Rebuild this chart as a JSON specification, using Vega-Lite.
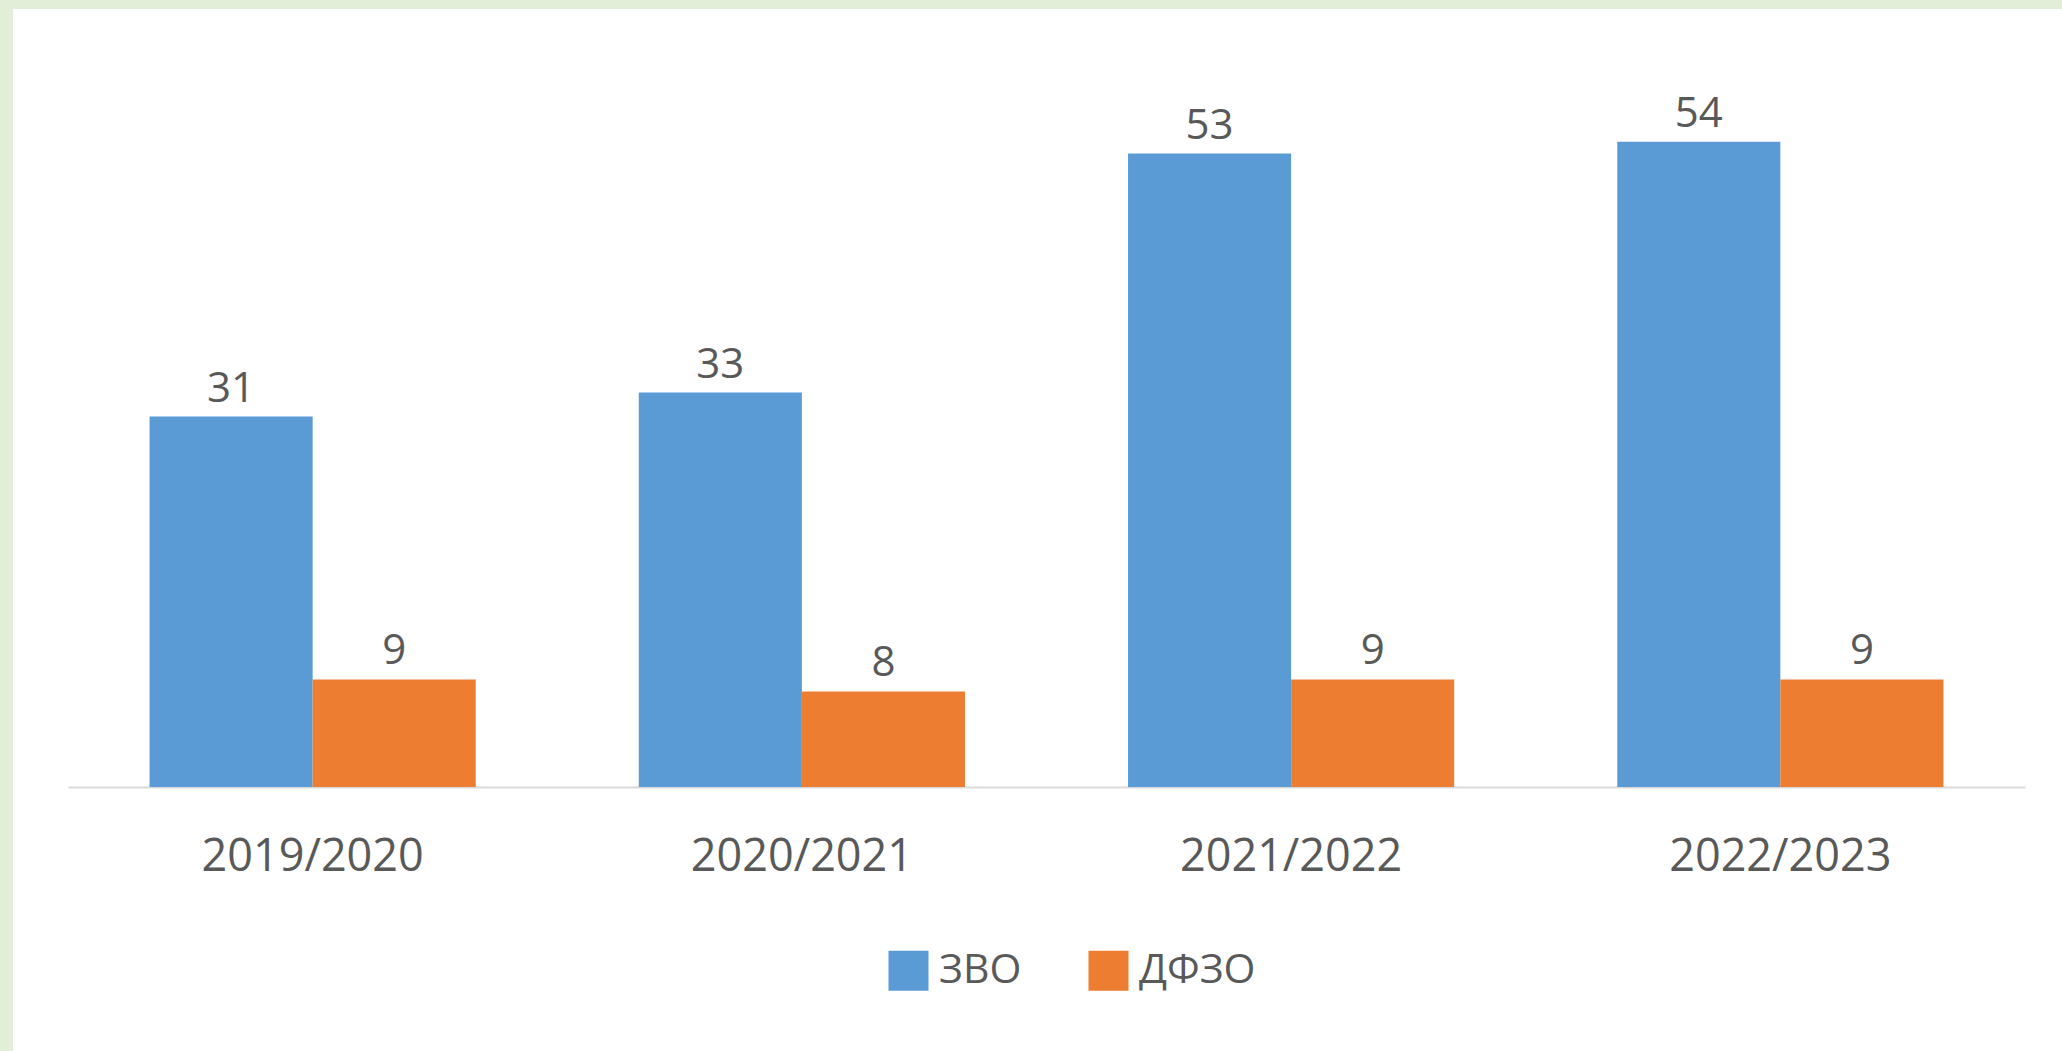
{
  "$schema": "https://vega.github.io/schema/vega-lite/v6.json",
  "width": 2049,
  "height": 1042,
  "autosize": {"type": "none"},
  "padding": {"left": 13, "top": 9, "right": 0, "bottom": 0},
  "background": "#e3eed9",
  "config": {"view": {"fill": "#ffffff", "stroke": null}, "font": "Open Sans"},
  "data": {
    "values": [
      {"year": "2019/2020", "series": "ЗВО", "value": 31},
      {"year": "2019/2020", "series": "ДФЗО", "value": 9},
      {"year": "2020/2021", "series": "ЗВО", "value": 33},
      {"year": "2020/2021", "series": "ДФЗО", "value": 8},
      {"year": "2021/2022", "series": "ЗВО", "value": 53},
      {"year": "2021/2022", "series": "ДФЗО", "value": 9},
      {"year": "2022/2023", "series": "ЗВО", "value": 54},
      {"year": "2022/2023", "series": "ДФЗО", "value": 9}
    ]
  },
  "encoding": {
    "x": {
      "field": "year",
      "type": "nominal",
      "sort": null,
      "scale": {"range": [55, 2012], "paddingInner": 0.3333, "paddingOuter": 0.1667},
      "axis": {
        "orient": "bottom",
        "offset": -264,
        "title": null,
        "labelAngle": 0,
        "labelLimit": 0,
        "domainColor": "#d9d9d9",
        "domainWidth": 2,
        "ticks": false,
        "tickSize": 0,
        "grid": false,
        "labelFontSize": 45,
        "labelColor": "#595959",
        "labelPadding": 83,
        "labelBaseline": "alphabetic"
      }
    },
    "xOffset": {"field": "series", "type": "nominal", "sort": ["ЗВО", "ДФЗО"]},
    "y": {
      "field": "value",
      "type": "quantitative",
      "scale": {"domain": [-22.09, 65.1], "nice": false, "zero": false},
      "axis": null
    }
  },
  "layer": [
    {
      "mark": {"type": "bar"},
      "encoding": {
        "y2": {"datum": 0},
        "color": {
          "field": "series",
          "type": "nominal",
          "sort": ["ЗВО", "ДФЗО"],
          "scale": {"domain": ["ЗВО", "ДФЗО"], "range": ["#5b9bd5", "#ed7d31"]},
          "legend": {
            "orient": "none",
            "legendX": 875,
            "legendY": 941,
            "direction": "horizontal",
            "title": null,
            "symbolType": "square",
            "symbolSize": 1600,
            "symbolStrokeWidth": 0,
            "labelFontSize": 41,
            "labelColor": "#595959",
            "labelOffset": 10,
            "columnPadding": 66,
            "padding": 0
          }
        }
      }
    },
    {
      "mark": {"type": "text", "baseline": "alphabetic", "dy": -15, "fontSize": 42, "color": "#595959"},
      "encoding": {"text": {"field": "value", "type": "quantitative"}}
    }
  ]
}
